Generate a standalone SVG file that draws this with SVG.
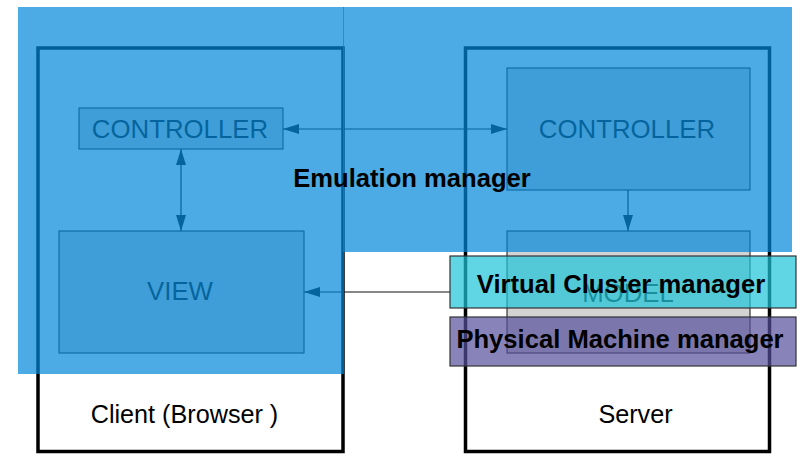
<svg xmlns="http://www.w3.org/2000/svg" width="800" height="455" viewBox="0 0 800 455">
<style>
.frame{fill:none;stroke:#000;stroke-width:3.5}
.box{fill:#d3d3d3;stroke:#111;stroke-width:1}
.boxtxt{font-family:"Liberation Sans",Arial,sans-serif;font-size:25.8px;fill:#111;text-anchor:middle}
.lbl{font-family:"Liberation Sans",Arial,sans-serif;font-size:25.2px;fill:#000;text-anchor:middle}
.big{font-family:"Liberation Sans",Arial,sans-serif;font-size:25.6px;font-weight:bold;fill:#000;text-anchor:middle}
.conn{stroke:#111;stroke-width:1.2;fill:none}
.ovl{fill:#0087d9;fill-opacity:0.7}
</style>
<defs>
<marker id="ah" viewBox="0 0 16 10" refX="16" refY="5" markerWidth="16" markerHeight="10" markerUnits="userSpaceOnUse" orient="auto-start-reverse">
<path d="M0,0 L16,5 L0,10 Z" fill="#111"/>
</marker>
</defs>
<rect width="800" height="455" fill="#fff"/>
<g id="client">
<rect class="frame" x="38" y="48" width="305" height="403.5"/>
<text class="lbl" x="184.5" y="423">Client (Browser )</text>
</g>
<g id="server">
<rect class="frame" x="465.5" y="48" width="304" height="403.5"/>
<text class="lbl" x="635.5" y="423">Server</text>
</g>
<g id="client-controller">
<rect class="box" x="79" y="108" width="204" height="41"/>
<text class="boxtxt" x="180" y="138">CONTROLLER</text>
</g>
<g id="view">
<rect class="box" x="59" y="231" width="245" height="122"/>
<text class="boxtxt" x="180" y="300">VIEW</text>
</g>
<g id="server-controller">
<rect class="box" x="507" y="68" width="243" height="122"/>
<text class="boxtxt" x="627" y="138">CONTROLLER</text>
</g>
<g id="model">
<rect class="box" x="507" y="231" width="243" height="122"/>
<text class="boxtxt" x="628" y="302">MODEL</text>
</g>
<g id="connectors">
<line class="conn" x1="283" y1="129" x2="507" y2="129" marker-start="url(#ah)" marker-end="url(#ah)"/>
<line class="conn" x1="181" y1="149" x2="181" y2="231" marker-start="url(#ah)" marker-end="url(#ah)"/>
<line class="conn" x1="628" y1="190" x2="628" y2="231" marker-end="url(#ah)"/>
<line class="conn" x1="450" y1="292" x2="304" y2="292" marker-end="url(#ah)"/>
</g>
<g id="emulation-manager">
<rect class="ovl" x="18" y="7" width="326" height="367"/>
<rect class="ovl" x="343" y="7" width="449" height="245"/>
<text class="big" x="412" y="187">Emulation manager</text>
</g>
<g id="virtual-cluster-manager">
<rect x="450" y="256" width="346" height="52" fill="#1dc4d9" fill-opacity="0.7" stroke="#333" stroke-width="1.2"/>
<text class="big" x="621" y="293">Virtual Cluster manager</text>
</g>
<g id="physical-machine-manager">
<rect x="450" y="317" width="346" height="49" fill="#56509d" fill-opacity="0.7" stroke="#333" stroke-width="1.2"/>
<text class="big" x="620" y="348">Physical Machine manager</text>
</g>
</svg>
